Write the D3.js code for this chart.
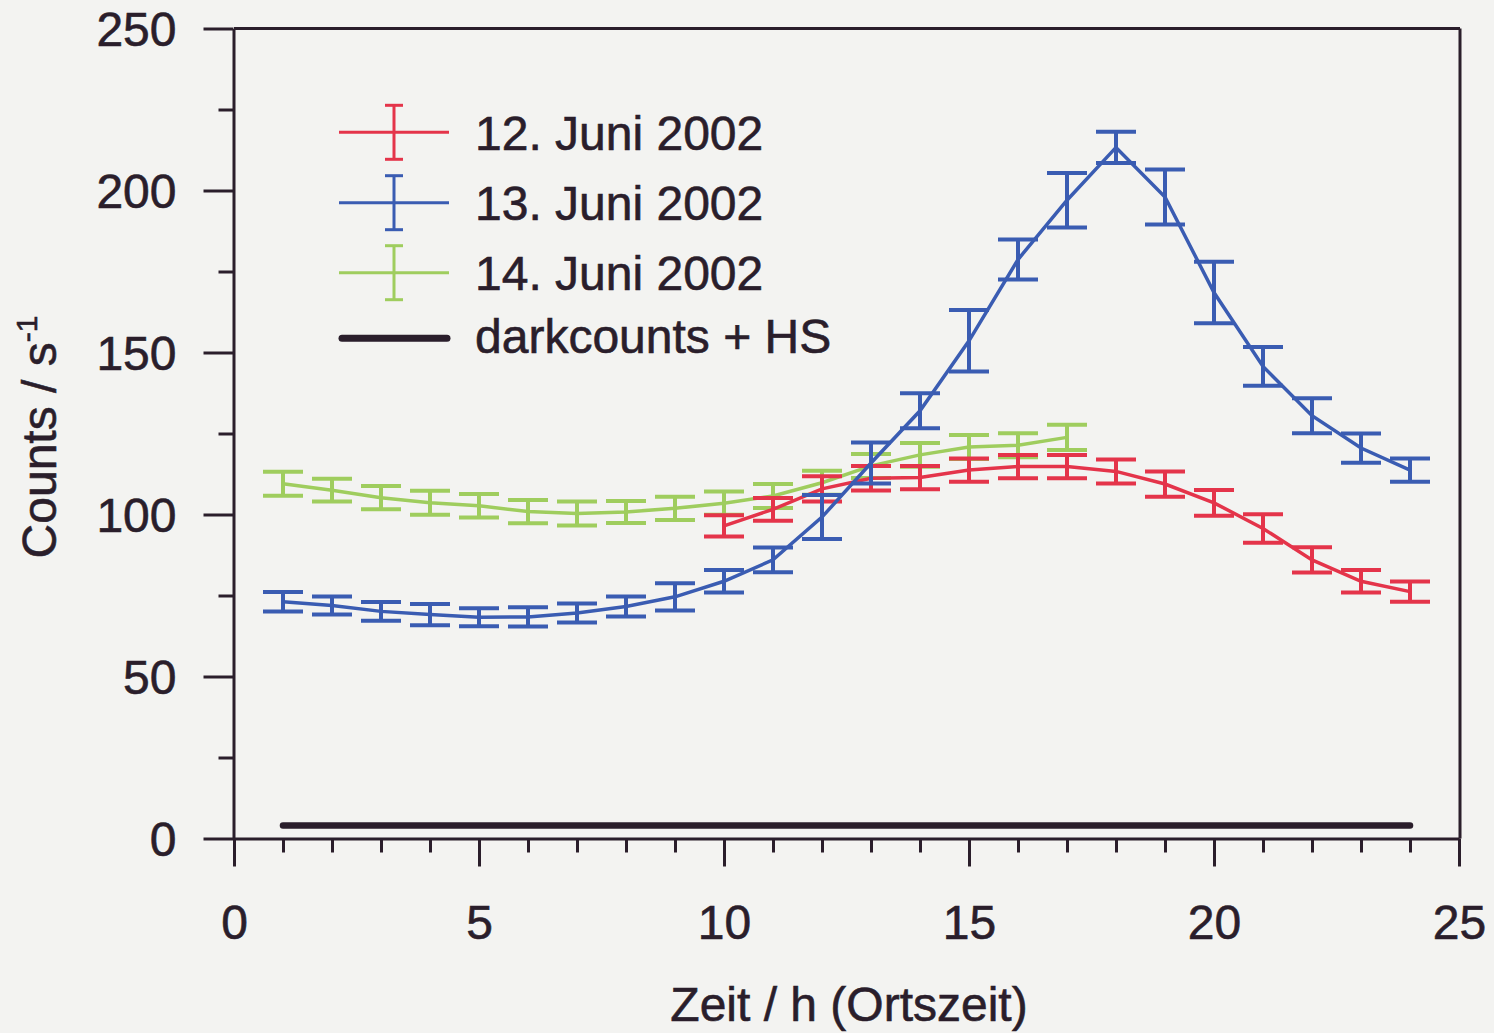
<!DOCTYPE html>
<html><head><meta charset="utf-8">
<script src="https://cdn.jsdelivr.net/npm/d3@7"></script>
<style>html,body{margin:0;padding:0;background:#f3f3f1;} svg{display:block;}</style>
</head><body><svg id="c" width="1494" height="1033"></svg>
<script>
// ---- data ----
const hoursRed   = [10,11,12,13,14,15,16,17,18,19,20,21,22,23,24];
const valuesRed  = [96.5,101.6,107.9,111.2,111.4,113.7,114.8,114.8,113.3,109.4,103.6,95.7,86.0,79.4,76.2];
const errorsRed  = [3.3,3.5,3.9,3.8,3.6,3.6,3.6,3.6,3.7,3.9,4.0,4.4,3.9,3.5,3.1];

const hoursBlue  = [1,2,3,4,5,6,7,8,9,10,11,12,13,14,15,16,17,18,19,20,21,22,23,24];
const valuesBlue = [73.1,71.9,70.1,69.1,68.3,68.4,69.6,71.6,74.6,79.4,86.0,99.2,115.9,132.0,153.6,178.7,197.0,213.3,198.0,168.5,145.7,130.5,120.5,113.7];
const errorsBlue = [3.0,2.8,2.9,3.3,2.8,3.0,2.9,3.1,4.2,3.5,3.8,6.8,6.3,5.4,9.5,6.2,8.4,4.8,8.5,9.5,6.0,5.4,4.5,3.6];

const hoursGreen  = [1,2,3,4,5,6,7,8,9,10,11,12,13,14,15,16,17];
const valuesGreen = [109.5,107.5,105.2,103.6,102.7,100.9,100.3,100.8,101.9,103.5,105.7,109.8,115.0,118.4,120.8,121.4,123.8];
const errorsGreen = [3.7,3.5,3.6,3.7,3.6,3.6,3.7,3.4,3.6,3.6,3.7,3.7,3.7,3.7,3.7,3.7,3.9];

const hoursDark  = [1,24];
const valuesDark = [4,4];

const legendLabels = ["12. Juni 2002","13. Juni 2002","14. Juni 2002","darkcounts + HS"];
const xMajorTicks = [0,5,10,15,20,25];
const yMajorTicks = [0,50,100,150,200,250];
const xTitle = "Zeit / h (Ortszeit)";
const yTitle = "Counts / s";
const yTitleSup = "-1";

// ---- styling ----
const INK = "#2a1e2b";
const FONT = "'Liberation Sans', Arial, sans-serif";
const colRed = "#e4344a", colBlue = "#3a5cb2", colGreen = "#9fcd5e";

const svg = d3.select("#c");
svg.append("rect").attr("width",1494).attr("height",1033).attr("fill","#f3f3f1");

const x = d3.scaleLinear().domain([0,25]).range([234,1459]);
const y = d3.scaleLinear().domain([0,250]).range([838.5,28.5]);

function styleText(sel){
  sel.attr("fill",INK).attr("font-family",FONT).attr("font-size",48)
     .attr("stroke",INK).attr("stroke-width",0.6);
}

// ---- axes ----
const xMinor = d3.range(0,26).filter(v=>v%5!==0);
const yMinor = d3.range(0,251,25).filter(v=>v%50!==0);

function styleAxis(g){
  g.selectAll("path,line").attr("stroke",INK).attr("stroke-width",3);
  g.selectAll("text").call(styleText);
}

svg.append("g").attr("transform",`translate(0,${y(0)})`)
  .call(d3.axisBottom(x).tickValues(xMinor).tickSize(14).tickFormat("").tickSizeOuter(0))
  .call(g=>g.select(".domain").remove()).call(styleAxis);
svg.append("g").attr("transform",`translate(${x(0)-0.5},0)`)
  .call(d3.axisLeft(y).tickValues(yMinor).tickSize(15).tickFormat("").tickSizeOuter(0))
  .call(g=>g.select(".domain").remove()).call(styleAxis);

svg.append("g").attr("transform",`translate(0,${y(0)})`)
  .call(d3.axisBottom(x).tickValues(xMajorTicks).tickSize(28).tickPadding(38).tickSizeOuter(0))
  .call(styleAxis);
svg.append("g").attr("transform",`translate(${x(0)-0.5},0)`)
  .call(d3.axisLeft(y).tickValues(yMajorTicks).tickSize(30).tickPadding(27).tickSizeOuter(0))
  .call(g=>g.selectAll("text").attr("dy","0.36em"))
  .call(styleAxis);

// frame top & right
svg.append("line").attr("x1",x(0)).attr("x2",x(25)+1).attr("y1",y(250)).attr("y2",y(250))
  .attr("stroke",INK).attr("stroke-width",3);
svg.append("line").attr("x1",x(25)+1).attr("x2",x(25)+1).attr("y1",y(250)).attr("y2",y(0))
  .attr("stroke",INK).attr("stroke-width",3);

// ---- titles ----
svg.append("text").attr("x",849).attr("y",1021).attr("text-anchor","middle")
  .call(styleText).text(xTitle);
const yt = svg.append("text").attr("transform","translate(56,437) rotate(-90)")
  .attr("text-anchor","middle").call(styleText);
yt.append("tspan").text(yTitle);
yt.append("tspan").attr("font-size",30).attr("dy",-19).text(yTitleSup);

// ---- darkcounts line ----
const darkData = hoursDark.map((h,i)=>({h,v:valuesDark[i]}));
svg.append("path").datum(darkData)
  .attr("d",d3.line().x(d=>x(d.h)).y(d=>y(d.v)))
  .attr("fill","none").attr("stroke",INK).attr("stroke-width",6.5).attr("stroke-linecap","round");

// ---- series ----
const series = [
  {h:hoursGreen,v:valuesGreen,e:errorsGreen,c:colGreen},
  {h:hoursRed,v:valuesRed,e:errorsRed,c:colRed},
  {h:hoursBlue,v:valuesBlue,e:errorsBlue,c:colBlue}
];
const line = d3.line().x(d=>x(d.h)).y(d=>y(d.v));
series.forEach(s=>{
  const data = s.h.map((h,i)=>({h,v:s.v[i],e:s.e[i]}));
  const g = svg.append("g");
  const eb = g.selectAll("g.eb").data(data).join("g").attr("class","eb");
  eb.append("line").attr("x1",d=>x(d.h)).attr("x2",d=>x(d.h))
    .attr("y1",d=>y(d.v-d.e)).attr("y2",d=>y(d.v+d.e))
    .attr("stroke",s.c).attr("stroke-width",4);
  eb.append("line").attr("x1",d=>x(d.h)-20).attr("x2",d=>x(d.h)+20)
    .attr("y1",d=>y(d.v+d.e)).attr("y2",d=>y(d.v+d.e))
    .attr("stroke",s.c).attr("stroke-width",4);
  eb.append("line").attr("x1",d=>x(d.h)-20).attr("x2",d=>x(d.h)+20)
    .attr("y1",d=>y(d.v-d.e)).attr("y2",d=>y(d.v-d.e))
    .attr("stroke",s.c).attr("stroke-width",4);
  g.append("path").datum(data).attr("d",line)
    .attr("fill","none").attr("stroke",s.c).attr("stroke-width",3.5);
});

// ---- legend ----
const legRows = [132.3,202.7,272.7,338.3];
const legText = [150,220,290,353];
const legCols = [colRed,colBlue,colGreen,INK];
const lg = svg.append("g");
legendLabels.forEach((lab,i)=>{
  const cy = legRows[i];
  if(i<3){
    lg.append("line").attr("x1",339).attr("x2",449).attr("y1",cy).attr("y2",cy)
      .attr("stroke",legCols[i]).attr("stroke-width",3);
    lg.append("line").attr("x1",394).attr("x2",394).attr("y1",cy-27).attr("y2",cy+27)
      .attr("stroke",legCols[i]).attr("stroke-width",3);
    [cy-27,cy+27].forEach(yy=>lg.append("line").attr("x1",385).attr("x2",403)
      .attr("y1",yy).attr("y2",yy).attr("stroke",legCols[i]).attr("stroke-width",3));
  } else {
    lg.append("line").attr("x1",342).attr("x2",447).attr("y1",cy).attr("y2",cy)
      .attr("stroke",INK).attr("stroke-width",7).attr("stroke-linecap","round");
  }
  lg.append("text").attr("x",475).attr("y",legText[i]).call(styleText).text(lab);
});
</script></body></html>
